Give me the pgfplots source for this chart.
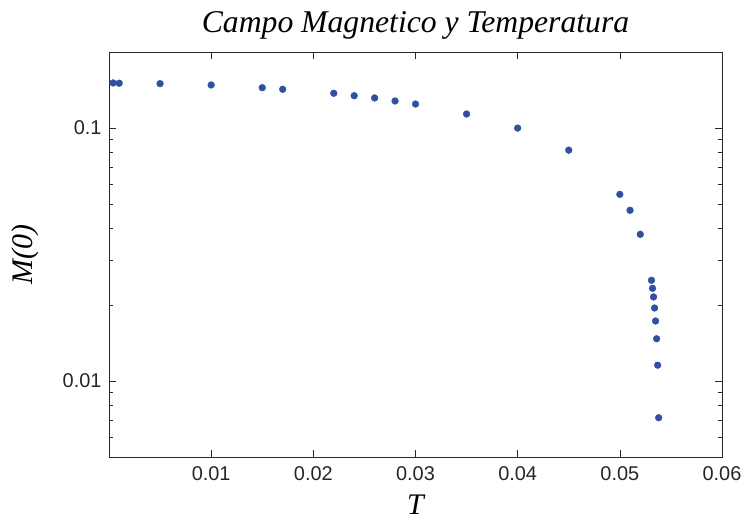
\documentclass[border=0pt]{standalone}
\usepackage{pgfplots}
\pgfplotsset{compat=1.18}
\usepackage{fontspec}
\setmainfont{Liberation Serif}
\setsansfont{Liberation Sans}
\definecolor{dotblue}{RGB}{48,80,162}
\definecolor{framec}{RGB}{40,40,40}
\begin{document}
\begin{tikzpicture}
\path[use as bounding box] (-109bp,-64bp) rectangle (634bp,457bp);
\begin{axis}[
  scale only axis,
  width=613bp, height=405bp,
  at={(0,0)}, anchor=south west,
  ymode=log,
  xmin=0, xmax=0.06,
  ymin=0.005, ymax=0.2,
  scaled x ticks=false,
  xtick={0.01,0.02,0.03,0.04,0.05,0.06},
  xticklabels={0.01,0.02,0.03,0.04,0.05,0.06},
  ytick={0.01,0.1},
  yticklabels={0.01,0.1},
  minor ytick={0.005,0.006,0.007,0.008,0.009,0.02,0.03,0.04,0.05,0.06,0.07,0.08,0.09},
  tick align=inside,
  major tick length=7bp,
  minor tick length=4bp,
  axis line style={framec, line width=0.9pt},
  every tick/.style={framec, line width=0.6pt},
  ticklabel style={font=\sffamily\fontsize{20}{22}\selectfont, text=black!85},
  xticklabel style={yshift=-6bp},
  yticklabel style={xshift=-4bp},
  title={\itshape\fontsize{31.8}{33}\selectfont Campo Magnetico y Temperatura},
  title style={at={(axis description cs:0.5,1.052)}, anchor=center},
  xlabel={\itshape\fontsize{30}{32}\selectfont T},
  ylabel={\itshape\fontsize{30}{32}\selectfont M(0)},
  xlabel style={at={(axis description cs:0.5,-0.1185)}, anchor=center},
  ylabel style={at={(axis description cs:-0.137,0.5)}, anchor=center},
  clip=false,
]
\addplot[only marks, mark=*, mark size=3.4bp, draw=dotblue, fill=dotblue] coordinates {
(0.0004,0.1509) (0.001,0.1505) (0.005,0.1499) (0.010,0.1481) (0.015,0.1445) (0.017,0.1424)
(0.022,0.1373) (0.024,0.1343) (0.026,0.1316) (0.028,0.1280) (0.030,0.1245) (0.035,0.1137)
(0.040,0.1000) (0.045,0.0818) (0.050,0.0547) (0.051,0.0473) (0.052,0.0380)
(0.0531,0.0250) (0.0532,0.02324) (0.0533,0.02148) (0.0534,0.01943) (0.0535,0.01726)
(0.0536,0.01468) (0.0537,0.01154) (0.0538,0.00715)
};
\end{axis}
\end{tikzpicture}
\end{document}
